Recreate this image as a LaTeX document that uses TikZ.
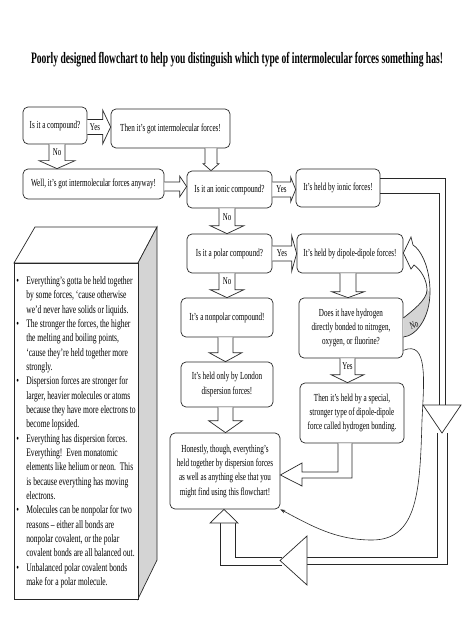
\documentclass[tikz,border=0pt]{standalone}
\usepackage{fontspec}
\setmainfont{Liberation Serif}[FakeStretch=0.66]
\newfontfamily\titlefont{Liberation Serif}[FakeStretch=0.6]
\usetikzlibrary{calc,arrows.meta}
\definecolor{sidegray}{RGB}{212,212,212}
\definecolor{ink}{RGB}{40,40,40}
\newcommand\hdown[7]{%
  \coordinate (s) at (#3,0 |- #1.south);
  \coordinate (t) at (#3,0 |- #2.north);
  \draw[hollow] ($(s)+(-#4,0)$) -- ($(t)+(-#4,-#6)$) -- ($(t)+(-#5,-#6)$) -- (t) -- ($(t)+(#5,-#6)$) -- ($(t)+(#4,-#6)$) -- ($(s)+(#4,0)$);
  \node[lbl] at ($(s)!0.5!(t)+(0,-#6/2)$) {#7};}
\newcommand\hright[7]{%
  \coordinate (s) at (#1.east |- 0,#3);
  \coordinate (t) at (#2.west |- 0,#3);
  \draw[hollow] ($(s)+(0,-#4)$) -- ($(t)+(-#6,-#4)$) -- ($(t)+(-#6,-#5)$) -- (t) -- ($(t)+(-#6,#5)$) -- ($(t)+(-#6,#4)$) -- ($(s)+(0,#4)$);
  \node[lbl] at ($(s)!0.5!(t)+(-#6/2,0)$) {#7};}
\begin{document}
\begin{tikzpicture}[x=1bp,y=-1bp,line width=0.7bp,draw=ink,
  box/.style={draw=ink,rounded corners=5bp,fill=white,align=center,inner sep=1bp,
    font=\fontsize{10.8}{14.4}\selectfont},
  hollow/.style={draw=ink,fill=white,line join=miter},
  lbl/.style={font=\fontsize{10.5}{12}\selectfont,inner sep=0pt}]
\useasboundingbox (0,0) rectangle (474,630);
\fill[white] (0,0) rectangle (474,630);

% title
\node[font=\titlefont\bfseries\fontsize{16}{18}\selectfont] (title) at (237,60)
  {Poorly designed flowchart to help you distinguish which type of intermolecular forces something has!};

% 3D note box
\draw[fill=white] (14,263) -- (35,227) -- (157,227) -- (138,263) -- cycle;
\draw[fill=sidegray] (138,263) -- (157,227) -- (157,560) -- (138,599) -- cycle;
\draw[fill=white] (14,263) rectangle (138,599);
\node[anchor=north west,inner sep=0pt,font=\fontsize{11.5}{14.4}\selectfont] (notes) at (16,274) {%
\begin{tabular}{@{}p{10bp}@{}l@{}}
\textbullet & Everything’s gotta be held together\\
 & by some forces, ‘cause otherwise\\
 & we’d never have solids or liquids.\\
\textbullet & The stronger the forces, the higher\\
 & the melting and boiling points,\\
 & ‘cause they’re held together more\\
 & strongly.\\
\textbullet & Dispersion forces are stronger for\\
 & larger, heavier molecules or atoms\\
 & because they have more electrons to\\
 & become lopsided.\\
\textbullet & Everything has dispersion forces.\\
 & Everything!\ \ Even monatomic\\
 & elements like helium or neon.\ \ This\\
 & is because everything has moving\\
 & electrons.\\
\textbullet & Molecules can be nonpolar for two\\
 & reasons – either all bonds are\\
 & nonpolar covalent, or the polar\\
 & covalent bonds are all balanced out.\\
\textbullet & Unbalanced polar covalent bonds\\
 & make for a polar molecule.
\end{tabular}};

% boxes
\node[box,minimum width=64bp,minimum height=37bp] (comp) at (55,125.5) {Is it a compound?};
\node[box,minimum width=119bp,minimum height=39bp] (then) at (170.5,128.5) {Then it’s got intermolecular forces!};
\node[box,minimum width=141bp,minimum height=30bp] (well) at (93.5,184) {Well, it’s got intermolecular forces anyway!};
\node[box,minimum width=85bp,minimum height=37bp] (ionic) at (229.5,189.5) {Is it an ionic compound?};
\node[box,minimum width=84bp,minimum height=38bp] (ionicf) at (338,188) {It’s held by ionic forces!};
\node[box,minimum width=85bp,minimum height=39bp] (polar) at (229.5,253.5) {Is it a polar compound?};
\node[box,minimum width=106bp,minimum height=39bp] (dipole) at (350,253.5) {It’s held by dipole-dipole forces!};
\node[box,minimum width=92bp,minimum height=39bp] (nonpolar) at (227,317.5) {It’s a nonpolar compound!};
\node[box,minimum width=104bp,minimum height=60bp] (does) at (351,328) {Does it have hydrogen\\directly bonded to nitrogen,\\oxygen, or fluorine?};
\node[box,minimum width=92bp,minimum height=45bp] (london) at (227,384.5) {It’s held only by London\\dispersion forces!};
\node[box,minimum width=104bp,minimum height=60bp] (hbond) at (352,413) {Then it’s held by a special,\\stronger type of dipole-dipole\\force called hydrogen bonding.};
\node[box,minimum width=110bp,minimum height=76bp] (honest) at (225,471) {Honestly, though, everything’s\\held together by dispersion forces\\as well as anything else that you\\might find using this flowchart!};

% hollow arrows
\hright{comp}{then}{127}{7.5}{17}{8}{Yes}
\hdown{comp}{well}{57}{8}{18}{8}{No}
\hright{well}{ionic}{186.5}{4.5}{10.5}{7}{}
\hdown{then}{ionic}{211}{6}{8}{7}{}
\hright{ionic}{ionicf}{189.5}{7.5}{12.5}{5}{Yes}
\hdown{ionic}{polar}{227}{8}{17}{8}{No}
\hright{polar}{dipole}{253.5}{7.5}{18}{5}{Yes}
\hdown{dipole}{does}{348}{8}{16.5}{6}{}
\hdown{polar}{nonpolar}{227}{8}{17}{8}{No}
\hdown{nonpolar}{london}{225.5}{7.5}{16.5}{9}{}
\hdown{does}{hbond}{347.5}{7.5}{16.5}{8}{Yes}
\hdown{london}{honest}{225.5}{7.5}{17}{12}{}

% L-shaped arrow hbond -> honest
\draw[hollow] (338,0 |- hbond.south) -- (338,472) -- (302,472) -- (302,463) -- (honest.east |- 0,475) -- (302,486) -- (302,478) -- (352,478) -- (352,0 |- hbond.south);

% big arrow from ionic forces back to honest
\draw (ionicf.east |- 0,178) -- (445,178) -- (445,405);
\draw (ionicf.east |- 0,193) -- (439,193) -- (439,405);
\draw (437,433) -- (437,557) -- (307,557);
\draw (447,433) -- (447,564) -- (307,564);
\draw (282,557) -- (235,557) -- (235,523);
\draw (282,565) -- (220,565) -- (220,523);
\draw[hollow] (423,405) -- (461,405) -- (442,433) -- cycle;
\draw[hollow] (307,536) -- (280,560.5) -- (307,585) -- cycle;
\draw[hollow] (210,523) -- (238,523) -- (honest.south -| 224,0) -- cycle;

% curved "No" arrow from does back to dipole
\fill[white] (does.east |- 0,337) .. controls (416,336) and (430,318) .. (430,292) .. controls (430,266) and (420,249) .. (413,245) -- (411,237) -- (dipole.east |- 0,253) -- (411,269) -- (414,265) .. controls (421,270) and (427,280) .. (427,290) .. controls (427,300) and (412,311) .. (does.east |- 0,318) -- cycle;
\fill[sidegray] (does.east |- 0,318) .. controls (412,311) and (427,300) .. (427,290) -- (430,292) .. controls (430,318) and (416,336) .. (does.east |- 0,337) -- cycle;
\draw[line join=miter] (does.east |- 0,337) .. controls (416,336) and (430,318) .. (430,292) .. controls (430,266) and (420,249) .. (413,245) -- (411,237) -- (dipole.east |- 0,253) -- (411,269) -- (414,265) .. controls (421,270) and (427,280) .. (427,290) .. controls (427,300) and (412,311) .. (does.east |- 0,318);
\node[lbl,rotate=20,font=\fontsize{10}{12}\selectfont] (nolbl) at (414,325) {No};

% thin curve from does to honest
\draw[line width=0.6bp,-{Stealth[length=5bp,width=3.5bp]}] ($(does.south east)+(0,-8)$) .. controls (428,340) and (424,380) .. (422,420) .. controls (420,490) and (418,540) .. (372,540) .. controls (335,540) and (310,525) .. (honest.south east);
\end{tikzpicture}
\end{document}
